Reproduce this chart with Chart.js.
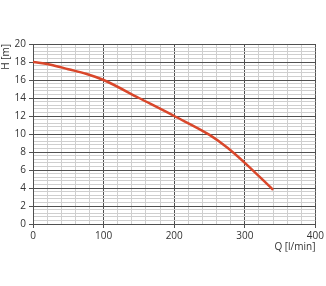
<!DOCTYPE html>
<html>
<head>
<meta charset="utf-8">
<script src="https://cdn.jsdelivr.net/npm/chart.js@4"></script>
<style>
  html, body { margin: 0; padding: 0; background: #fff; }
  #wrap { width: 326px; height: 286px; }
</style>
</head>
<body>
<div id="wrap"><canvas id="pumpChart" width="326" height="286"></canvas></div>
<script>
// ── Data ─────────────────────────────────────────────────────────────
const flowQ = [0, 25, 50, 75, 100, 150, 200, 250, 275, 300, 340];
const headH = [18, 17.7, 17.2, 16.7, 16, 14, 12, 9.9, 8.5, 6.8, 3.8];
const xTicks = [0, 100, 200, 300, 400];
const yTicks = [0, 2, 4, 6, 8, 10, 12, 14, 16, 18, 20];

const MAJOR = '#505050';
const MINOR = '#cfcfcf';
const FONT = { family: '"Open Sans", sans-serif', size: 10 };

function isMajor(v, list) {
  return list.some((t) => Math.abs(t - v) < 1e-6);
}

// ── Chart ────────────────────────────────────────────────────────────
const ctx = document.getElementById('pumpChart').getContext('2d');
new Chart(ctx, {
  type: 'line',
  data: {
    datasets: [
      {
        data: flowQ.map((q, i) => ({ x: q, y: headH[i] })),
        borderColor: '#d9472b',
        borderWidth: 2.5,
        pointRadius: 0,
        cubicInterpolationMode: 'monotone',
        fill: false,
      },
    ],
  },
  options: {
    responsive: false,
    animation: false,
    layout: { padding: { top: 44, right: 9, bottom: 32, left: 0 } },
    plugins: { legend: { display: false }, tooltip: { enabled: false } },
    scales: {
      x: {
        type: 'linear',
        min: 0,
        max: 400,
        afterFit: (s) => { s.height = 30; },
        border: { color: MAJOR },
        grid: {
          color: (c) => (isMajor(c.tick.value, xTicks) ? MAJOR : MINOR),
          tickLength: 4,
          tickColor: (c) => (isMajor(c.tick.value, xTicks) ? MAJOR : 'rgba(0,0,0,0)'),
        },
        ticks: {
          stepSize: 20,
          autoSkip: false,
          maxRotation: 0,
          padding: 2,
          color: '#333',
          font: FONT,
          callback: (v) => (isMajor(v, xTicks) ? String(Math.round(v)) : ''),
        },
        title: {
          display: true,
          text: 'Q [l/min]',
          align: 'end',
          color: '#333',
          font: FONT,
          padding: { top: 0, bottom: 1 },
        },
      },
      y: {
        min: 0,
        max: 20,
        afterFit: (s) => { s.width = 33; },
        border: { color: MAJOR },
        grid: {
          color: (c) => (isMajor(c.tick.value, yTicks) ? MAJOR : MINOR),
          tickLength: 4,
          tickColor: (c) => (isMajor(c.tick.value, yTicks) ? MAJOR : 'rgba(0,0,0,0)'),
        },
        ticks: {
          stepSize: 0.4,
          autoSkip: false,
          padding: 3,
          color: '#333',
          font: FONT,
          callback: (v) => (isMajor(v, yTicks) ? String(Math.round(v)) : ''),
        },
        title: {
          display: true,
          text: 'H [m]',
          align: 'end',
          color: '#333',
          font: FONT,
          padding: 0,
        },
      },
    },
  },
});
</script>
</body>
</html>
